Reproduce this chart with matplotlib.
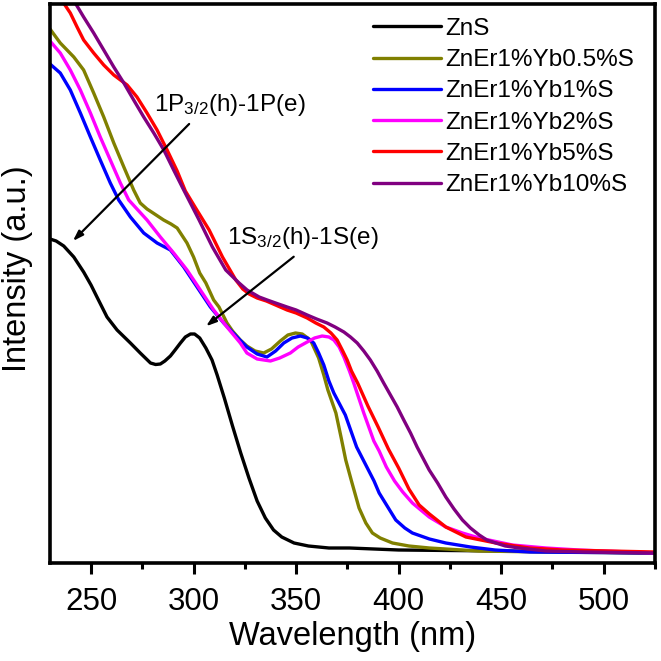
import matplotlib
matplotlib.use('Agg')
import matplotlib.pyplot as plt

plt.rcParams['font.family'] = ['Liberation Sans', 'DejaVu Sans']
plt.rcParams['mathtext.default'] = 'regular'

# absorption spectra (wavelength in nm, intensity in a.u.)
wl_zns = [230, 233, 236.7, 241.6, 246.4, 250, 252.9, 257.8, 262.7, 269.2, 274, 279, 281.5,
          283.8, 286, 288.7, 291, 293.6, 296, 298.5, 300.5, 303, 306, 309, 311.5, 315, 319,
          323, 327, 331, 335, 339, 343, 349, 356, 366, 376, 400, 450, 525]
zns = [3.24, 3.22, 3.17, 3.06, 2.91, 2.78, 2.66, 2.46, 2.33, 2.20, 2.10, 2.00, 1.985,
       1.99, 2.02, 2.07, 2.13, 2.20, 2.26, 2.29, 2.29, 2.25, 2.15, 2.03, 1.88, 1.65, 1.37,
       1.10, 0.85, 0.62, 0.45, 0.33, 0.26, 0.20, 0.17, 0.15, 0.15, 0.13, 0.12, 0.10]

wl_yb05 = [230, 235, 241.6, 246.4, 251.3, 256.2, 261.1, 266, 270.8, 274, 277.3, 281, 285.4,
           289, 292, 296.8, 300, 303, 306, 309.8, 312.4, 316.3, 319, 322.8, 326, 330, 334.2,
           338, 342.3, 346, 349.7, 353, 357, 361, 363.5, 365.5, 369.4, 372, 374.2, 377,
           380.7, 384, 387.2, 391, 397, 405, 415, 439, 470, 525]
yb05 = [5.34, 5.20, 5.06, 4.93, 4.70, 4.46, 4.20, 3.96, 3.73, 3.60, 3.54, 3.49, 3.43,
        3.39, 3.35, 3.20, 3.06, 2.90, 2.80, 2.63, 2.56, 2.40, 2.32, 2.23, 2.17, 2.12, 2.10,
        2.14, 2.22, 2.28, 2.30, 2.29, 2.23, 2.05, 1.88, 1.73, 1.50, 1.25, 1.03, 0.82,
        0.55, 0.40, 0.30, 0.25, 0.20, 0.17, 0.15, 0.12, 0.11, 0.10]

wl_yb1 = [230, 235, 239.9, 244.8, 249.7, 254.5, 259.4, 263.5, 269.2, 275.7, 282.2, 288.7,
          295.2, 301.7, 308.2, 314.7, 321.2, 326, 331, 335.8, 340, 344, 348, 352.1, 355.5,
          358.6, 361, 363.5, 366, 368.4, 374, 379.5, 384, 388, 390.5, 395, 398.6, 403,
          406.7, 415, 423, 435, 447, 464, 525]
yb1 = [4.99, 4.90, 4.73, 4.50, 4.26, 4.03, 3.80, 3.63, 3.46, 3.30, 3.20, 3.13,
       2.96, 2.76, 2.56, 2.40, 2.26, 2.16, 2.09, 2.06, 2.12, 2.20, 2.25, 2.27, 2.25,
       2.20, 2.10, 1.98, 1.82, 1.70, 1.48, 1.16, 0.98, 0.82, 0.70, 0.55, 0.43, 0.35,
       0.30, 0.24, 0.20, 0.16, 0.13, 0.11, 0.10]

wl_yb2 = [230, 235, 239.9, 244.8, 249.7, 254.5, 259.4, 264.3, 268.4, 277.3, 283.8, 290.3,
          296.8, 303.3, 309.8, 316.3, 322.8, 326, 331, 337.5, 342, 347.2, 351, 355.4, 359,
          362.7, 366, 368.4, 371, 373.3, 376, 378.1, 383, 387.9, 390.5, 394, 398, 402,
          406.7, 414.9, 423, 431.1, 439.3, 455.5, 471.8, 488, 525]
yb2 = [5.22, 5.10, 4.93, 4.73, 4.50, 4.26, 4.03, 3.80, 3.63, 3.43, 3.26, 3.10,
       2.93, 2.73, 2.53, 2.36, 2.20, 2.10, 2.04, 2.02, 2.05, 2.10, 2.16, 2.21, 2.25,
       2.27, 2.26, 2.23, 2.16, 2.06, 1.92, 1.80, 1.50, 1.22, 1.12, 0.96, 0.82, 0.71,
       0.60, 0.46, 0.36, 0.30, 0.25, 0.18, 0.15, 0.13, 0.10]

wl_yb5 = [230, 235, 239.9, 243.2, 246.4, 251.3, 256.2, 261.1, 267.6, 272.4, 277.3, 282.2,
          287.1, 292, 296, 301, 307.6, 314.1, 320.6, 324, 327.1, 331, 335.5, 340, 345.6,
          350, 355.4, 359.6, 363.5, 367, 370, 372.5, 374.9, 377, 380, 385, 390, 395, 400,
          405, 410, 415, 423, 432.8, 447.4, 463.7, 480, 525]
yb5 = [5.85, 5.65, 5.50, 5.36, 5.23, 5.10, 4.98, 4.88, 4.78, 4.66, 4.50, 4.33,
       4.13, 3.92, 3.72, 3.55, 3.33, 3.06, 2.83, 2.74, 2.69, 2.65, 2.62, 2.58, 2.53,
       2.50, 2.45, 2.40, 2.36, 2.30, 2.23, 2.13, 2.03, 1.92, 1.80, 1.57, 1.36, 1.14, 0.95,
       0.74, 0.58, 0.49, 0.36, 0.26, 0.20, 0.15, 0.13, 0.11]

wl_yb10 = [230, 235, 240, 243.2, 246.4, 251.3, 256.2, 261.1, 266, 270.8, 275.7, 280.6,
           285.5, 290.3, 295.2, 302.7, 309.2, 315.7, 322.2, 326.1, 332, 335.9, 340, 345.6,
           350, 355.4, 360, 365.1, 369, 373.3, 376.5, 379.8, 383, 386.2, 389.5, 392.7, 396,
           399.3, 402.5, 405.8, 409, 414.9, 419, 423, 427, 431.1, 435, 439.3, 443, 447.4,
           452, 458.8, 471.8, 490, 525]
yb10 = [6.05, 5.85, 5.67, 5.57, 5.46, 5.30, 5.13, 4.96, 4.80, 4.63, 4.46, 4.30,
        4.13, 3.93, 3.73, 3.43, 3.16, 2.93, 2.80, 2.73, 2.66, 2.63, 2.60, 2.56,
        2.53, 2.48, 2.44, 2.40, 2.36, 2.31, 2.26, 2.20, 2.12, 2.03, 1.92, 1.80, 1.68,
        1.56, 1.43, 1.30, 1.16, 0.93, 0.80, 0.66, 0.54, 0.43, 0.35, 0.28, 0.23, 0.20,
        0.17, 0.15, 0.12, 0.11, 0.10]

labels = ['ZnS', 'ZnEr1%Yb0.5%S', 'ZnEr1%Yb1%S', 'ZnEr1%Yb2%S', 'ZnEr1%Yb5%S', 'ZnEr1%Yb10%S']
colors = ['#000000', '#808000', '#0000FF', '#FF00FF', '#FF0000', '#800080']

series = [(wl_zns, zns), (wl_yb05, yb05), (wl_yb1, yb1), (wl_yb2, yb2),
          (wl_yb5, yb5), (wl_yb10, yb10)]

fig = plt.figure(figsize=(6.61, 6.61), dpi=100)
ax = fig.add_axes([50 / 661, 1 - 563 / 661, 605 / 661, 559 / 661])

for (x, y), lab, c in zip(series, labels, colors):
    ax.plot(x, y, color=c, lw=2.4, label=lab, solid_capstyle='round')

ax.set_xlim(230, 525)
ax.set_ylim(0, 5.59)
ax.set_xticks([250, 300, 350, 400, 450, 500])
ax.set_xticks([275, 325, 375, 425, 475, 525], minor=True)
ax.set_yticks([])
ax.tick_params(axis='x', which='major', direction='out', length=8, width=2.2,
               labelsize=22.5, pad=9.5)
ax.tick_params(axis='x', which='minor', direction='out', length=4.5, width=2.2)
for s in ax.spines.values():
    s.set_linewidth(2.6)

ax.set_xlabel('Wavelength (nm)', fontsize=23.5, labelpad=3)
ax.set_ylabel('Intensity (a.u.)', fontsize=23.5)
ax.yaxis.set_label_coords(-0.028, 0.526)

# peak assignments
ax.annotate('', xy=(240.2, 3.20), xytext=(298.8, 4.41),
            arrowprops=dict(arrowstyle='-|>,head_length=0.6,head_width=0.2', color='black', lw=1.6))
ax.text(280.7, 4.52, '1P$_{3/2}$(h)-1P(e)', fontsize=17.5, va='baseline', ha='left')
ax.annotate('', xy=(305.0, 2.35), xytext=(349.9, 3.08),
            arrowprops=dict(arrowstyle='-|>,head_length=0.6,head_width=0.2', color='black', lw=1.6))
ax.text(316.5, 3.19, '1S$_{3/2}$(h)-1S(e)', fontsize=17.5, va='baseline', ha='left')

ax.legend(loc='upper left', bbox_to_anchor=(0.534, 0.975), frameon=False, fontsize=17.5,
          handlelength=2.8, handletextpad=0.17, labelspacing=0.38, borderpad=0,
          borderaxespad=0)

fig.savefig('out.png', dpi=100)
